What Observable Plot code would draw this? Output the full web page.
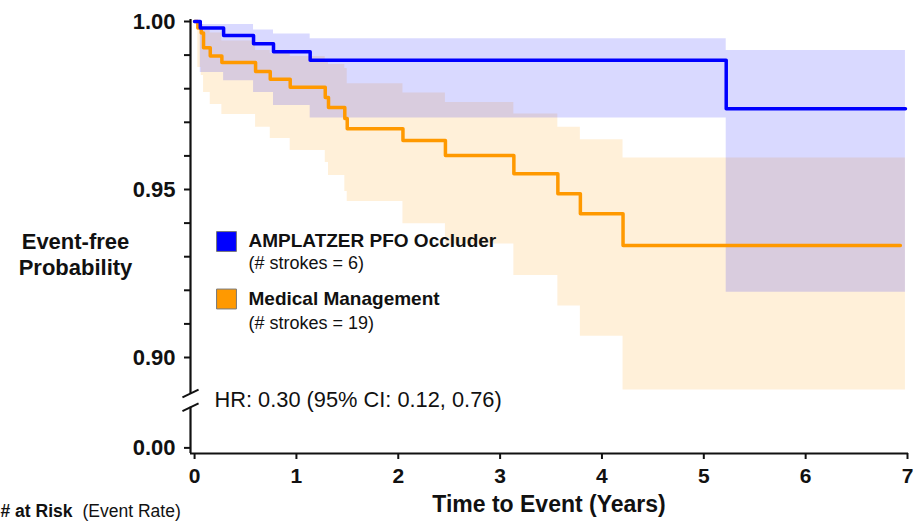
<!DOCTYPE html>
<html><head><meta charset="utf-8">
<script src="https://cdn.jsdelivr.net/npm/d3@7"></script>
<script src="https://cdn.jsdelivr.net/npm/@observablehq/plot@0.6"></script>
<style>
html,body{margin:0;padding:0;background:#fff;overflow:hidden}
#chart svg{display:block;overflow:visible}
</style></head><body><div id="chart"></div>
<script>
// ---------------- data ----------------
const deviceName = "AMPLATZER PFO Occluder";
const deviceStrokes = "(# strokes = 6)";
const medName = "Medical Management";
const medStrokes = "(# strokes = 19)";
const hrText = "HR: 0.30 (95% CI: 0.12, 0.76)";
const xTitle = "Time to Event (Years)";
const yTitle = "Event-free\nProbability";
const riskBold = "# at Risk";
const riskNormal = "(Event Rate)";

// AMPLATZER PFO Occluder: event times (years), survival, 95% CI
const deviceTime  = [0, 0.056, 0.285, 0.579, 0.775, 1.135, 5.22];
const deviceSurv  = [1, 0.9981, 0.9958, 0.9934, 0.9910, 0.9885, 0.9740];
const deviceLower = [1, 0.9848, 0.9824, 0.9789, 0.9750, 0.9713, 0.9194];
const deviceUpper = [1, 0.9991, 0.9991, 0.9975, 0.9963, 0.9949, 0.9914];
const deviceEnd = 6.98;

// Medical Management
const medTime  = [0, 0.032, 0.066, 0.088, 0.154, 0.268, 0.599, 0.743, 0.939, 1.283, 1.315, 1.475, 1.499, 2.046, 2.463, 3.135, 3.567, 3.788, 4.207];
const medSurv  = [1, 0.9981, 0.9966, 0.9922, 0.9897, 0.9878, 0.9851, 0.9828, 0.9804, 0.9774, 0.9744, 0.9711, 0.9681, 0.9646, 0.9601, 0.9547, 0.9487, 0.9428, 0.9333];
const medLower = [1, 0.9863, 0.9839, 0.9789, 0.9753, 0.9723, 0.9685, 0.9652, 0.9616, 0.9580, 0.9542, 0.9494, 0.9464, 0.9398, 0.9338, 0.9244, 0.9153, 0.9063, 0.8903];
const medUpper = [1, 0.9998, 0.9991, 0.9973, 0.9966, 0.9942, 0.9914, 0.9905, 0.9896, 0.9884, 0.9872, 0.9860, 0.9815, 0.9787, 0.9759, 0.9725, 0.9685, 0.9648, 0.9594];
const medLineEnd = 6.93;
const medBandEnd = 6.98;

// axis ticks
const xTicks = [0, 1, 2, 3, 4, 5, 6, 7];
const yMajor = [1.00, 0.95, 0.90, 0.00];
const yMinor = [0.99, 0.98, 0.97, 0.96, 0.94, 0.93, 0.92, 0.91];

// ---------------- axis break ----------------
const BREAK_SHIFT = 0.8731;           // where 0.00 is drawn below the break
const brk = v => v < 0.5 ? v + BREAK_SHIFT : v;
const breakHigh = 0.8893, breakLow = 0.8852;
const xMin = -0.04, xMax = 7, yMin = 0.87143, yMax = 1.0;

function rows(time, surv, lo, hi, end) {
  const r = time.map((t, i) => ({t, s: surv[i], lo: lo[i], hi: hi[i]}));
  const last = r[r.length - 1];
  r.push({...last, t: end});
  return r;
}
const deviceRows = rows(deviceTime, deviceSurv, deviceLower, deviceUpper, deviceEnd);
const medBand = rows(medTime, medSurv, medLower, medUpper, medBandEnd);
const medLine = rows(medTime, medSurv, medLower, medUpper, medLineEnd);

const BLUE = "#0000ff", ORANGE = "#ff9900", INK = "#111";
const FONT = "'Liberation Sans', Arial, Helvetica, sans-serif";
const labelOf = new Map(yMajor.map(v => [brk(v), v.toFixed(2)]));

const chart = Plot.plot({
  width: 916, height: 523,
  marginLeft: 190, marginRight: 9, marginTop: 21, marginBottom: 70,
  style: {fontFamily: FONT, color: INK, background: "#fff"},
  x: {domain: [xMin, xMax]},
  y: {domain: [yMin, yMax]},
  marks: [
    Plot.areaY(medBand, {x: "t", y1: "lo", y2: "hi", curve: "step-after", fill: ORANGE, fillOpacity: 0.15}),
    Plot.areaY(deviceRows, {x: "t", y1: "lo", y2: "hi", curve: "step-after", fill: BLUE, fillOpacity: 0.15}),
    Plot.line(medLine, {x: "t", y: "s", curve: "step-after", stroke: ORANGE, strokeWidth: 3.5}),
    Plot.line(deviceRows, {x: "t", y: "s", curve: "step-after", stroke: BLUE, strokeWidth: 3.5}),
    // axes
    Plot.axisY(yMajor.map(brk), {tickFormat: d => labelOf.get(d), tickSize: 6, tickPadding: 9, fontSize: 22, fontWeight: "bold", stroke: INK, fill: INK, strokeWidth: 2, label: null}),
    Plot.axisY(yMinor, {tickFormat: () => "", tickSize: 6, stroke: INK, strokeWidth: 2, label: null}),
    Plot.axisX(xTicks, {tickSize: 6, tickPadding: 9, fontSize: 21, fontWeight: "bold", stroke: INK, fill: INK, strokeWidth: 2, label: null}),
    Plot.ruleY([yMin], {x1: xMin, x2: xMax + 0.01, stroke: INK, strokeWidth: 2}),
    Plot.ruleX([xMin], {y1: breakHigh, y2: yMax + 0.0006, stroke: INK, strokeWidth: 2.2}),
    Plot.ruleX([xMin], {y1: yMin, y2: breakLow, stroke: INK, strokeWidth: 2.2}),
    Plot.link([breakHigh, breakLow], {x1: xMin - 0.079, x2: xMin + 0.079, y1: d => d - 0.00116, y2: d => d + 0.00116, stroke: INK, strokeWidth: 2}),
    // legend
    Plot.dot([deviceName], {frameAnchor: "top-left", dx: 36, dy: 220, symbol: "square", r: 11.2, fill: BLUE, stroke: "#777", strokeWidth: 1}),
    Plot.dot([medName], {frameAnchor: "top-left", dx: 36, dy: 277.5, symbol: "square", r: 11.2, fill: ORANGE, stroke: "#777", strokeWidth: 1}),
    Plot.text([deviceName], {frameAnchor: "top-left", dx: 58, dy: 219, textAnchor: "start", lineAnchor: "middle", fontSize: 19, fontWeight: "bold", fill: INK}),
    Plot.text([deviceStrokes], {frameAnchor: "top-left", dx: 58, dy: 242, textAnchor: "start", lineAnchor: "middle", fontSize: 18, fill: INK}),
    Plot.text([medName], {frameAnchor: "top-left", dx: 58, dy: 277, textAnchor: "start", lineAnchor: "middle", fontSize: 19, fontWeight: "bold", fill: INK}),
    Plot.text([medStrokes], {frameAnchor: "top-left", dx: 58, dy: 301.5, textAnchor: "start", lineAnchor: "middle", fontSize: 18, fill: INK}),
    Plot.text([hrText], {frameAnchor: "top-left", dx: 24, dy: 379, textAnchor: "start", lineAnchor: "middle", fontSize: 21.8, fill: INK}),
    // titles
    Plot.text([yTitle], {frameAnchor: "top-left", dx: -115, dy: 232, textAnchor: "middle", lineAnchor: "middle", lineHeight: 1.2, fontSize: 22, fontWeight: "bold", fill: INK}),
    Plot.text([xTitle], {frameAnchor: "bottom", dy: 51, lineAnchor: "middle", fontSize: 23, fontWeight: "bold", fill: INK}),
    Plot.text([riskBold], {frameAnchor: "bottom-left", dx: -190, dy: 58, textAnchor: "start", lineAnchor: "middle", fontSize: 17.5, fontWeight: "bold", fill: INK}),
    Plot.text([riskNormal], {frameAnchor: "bottom-left", dx: -108, dy: 58, textAnchor: "start", lineAnchor: "middle", fontSize: 17.5, fill: INK})
  ]
});
document.getElementById("chart").append(chart);
</script></body></html>
